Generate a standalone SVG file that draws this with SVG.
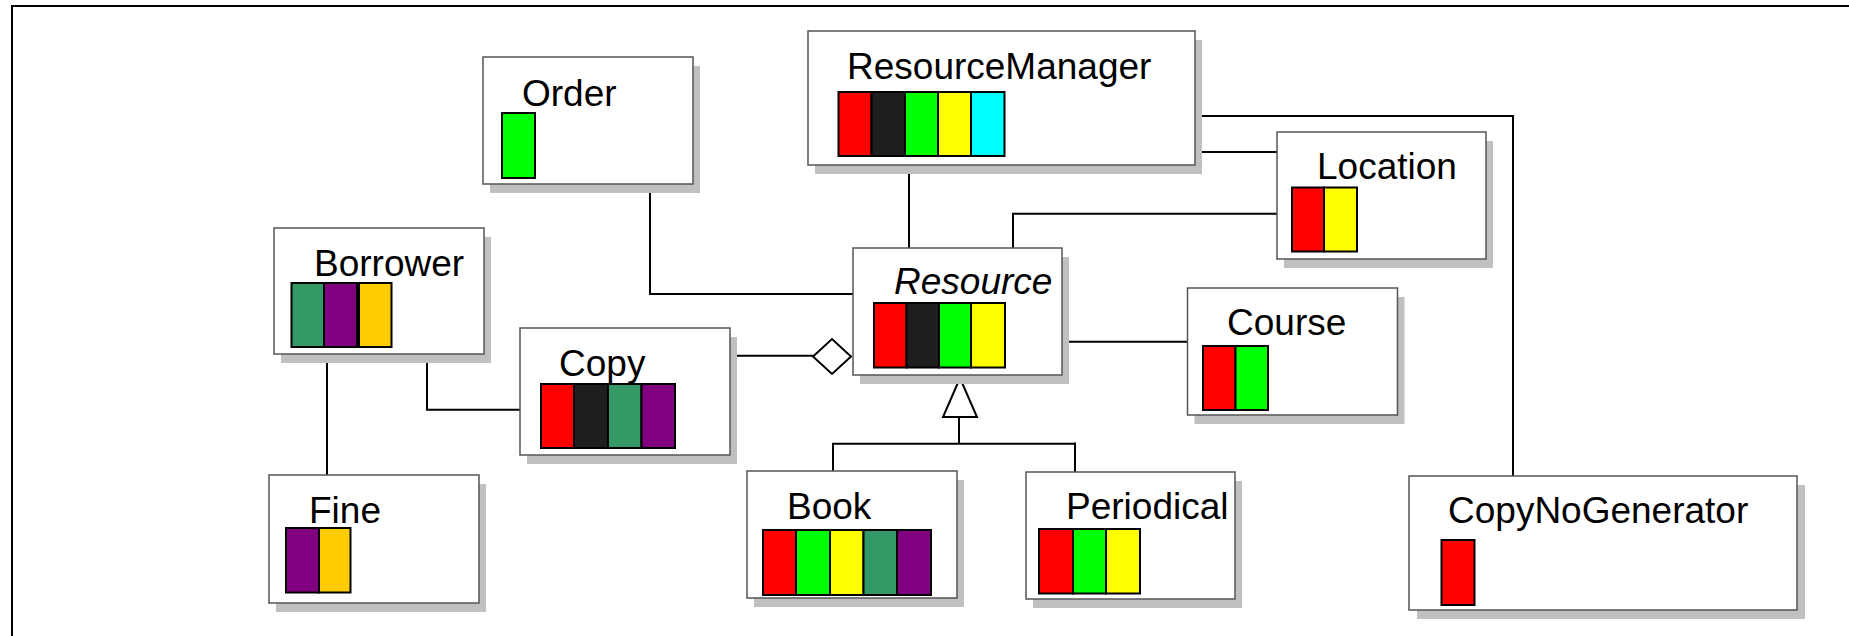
<svg xmlns="http://www.w3.org/2000/svg" width="1849" height="636" viewBox="0 0 1849 636">
  <style>
    .shadow { fill: #c0c0c0; }
    .box { fill: #ffffff; stroke: #555555; stroke-width: 1.5; }
    .label { font-family: "Liberation Sans", Arial, sans-serif; font-size: 37px; fill: #000000; }
    .italic { font-style: italic; }
    .sw { stroke: #000000; stroke-width: 2; }
    .red { fill: #ff0000; }
    .blk { fill: #1e1e1e; }
    .grn { fill: #00ff00; }
    .yel { fill: #ffff00; }
    .cyn { fill: #00ffff; }
    .sea { fill: #339966; }
    .pur { fill: #800080; }
    .gld { fill: #ffcc00; }
    .conn { fill: none; stroke: #000000; stroke-width: 2; }
    .head { fill: #ffffff; stroke: #000000; stroke-width: 2; stroke-linejoin: miter; }
    .frame { fill: none; stroke: #000000; stroke-width: 2; }
  </style>

  <rect x="0" y="0" width="1849" height="636" fill="#ffffff"/>

  <!-- page frame (top and left edges) -->
  <path class="frame" d="M12 636 V6 H1849"/>

  <!-- associations, aggregation and generalization -->
  <g id="connectors">
    <path class="conn" d="M650 184 V294 H853"/>
    <path class="conn" d="M909 165 V248"/>
    <path class="conn" d="M1277 213.7 H1013 V248"/>
    <path class="conn" d="M1195 152 H1277"/>
    <path class="conn" d="M1195 116 H1513 V476"/>
    <path class="conn" d="M1062 341.7 H1187.5"/>
    <path class="conn" d="M730 355.7 H813"/>
    <polygon class="head" points="813,356.5 832,339 851,356.5 832,374"/>
    <path class="conn" d="M959 417 V443.7"/>
    <path class="conn" d="M833 471 V443.7 H1075"/>
    <path class="conn" d="M1075 442.5 V472"/>
    <polygon class="head" points="960,378 943,417 977,417"/>
    <path class="conn" d="M327 354 V475"/>
    <path class="conn" d="M427 354 V409.7 H520"/>
  </g>

  <g id="order">
    <rect class="shadow" x="490" y="66" width="210" height="127"/>
    <rect class="box" x="483" y="57" width="210" height="127"/>
    <text class="label" x="522" y="106">Order</text>
    <rect class="sw grn" x="502" y="113" width="33" height="65"/>
  </g>

  <g id="resource-manager">
    <rect class="shadow" x="815" y="40" width="387" height="134"/>
    <rect class="box" x="808" y="31" width="387" height="134"/>
    <text class="label" x="847" y="79">ResourceManager</text>
    <rect class="sw red" x="838.5" y="92" width="33" height="64"/>
    <rect class="sw blk" x="871.5" y="92" width="33.5" height="64"/>
    <rect class="sw grn" x="905" y="92" width="33" height="64"/>
    <rect class="sw yel" x="938" y="92" width="33" height="64"/>
    <rect class="sw cyn" x="971" y="92" width="33.5" height="64"/>
  </g>

  <g id="location">
    <rect class="shadow" x="1284" y="141" width="209" height="127"/>
    <rect class="box" x="1277" y="132" width="209" height="127"/>
    <text class="label" x="1317" y="179">Location</text>
    <rect class="sw red" x="1292" y="187.5" width="32" height="64"/>
    <rect class="sw yel" x="1324" y="187.5" width="33" height="64"/>
  </g>

  <g id="borrower">
    <rect class="shadow" x="281" y="237" width="210" height="126"/>
    <rect class="box" x="274" y="228" width="210" height="126"/>
    <text class="label" x="314" y="276">Borrower</text>
    <rect class="sw sea" x="291.5" y="283" width="32.5" height="64"/>
    <rect class="sw pur" x="324" y="283" width="33" height="64"/>
    <rect class="sw gld" x="359" y="283" width="32.5" height="64"/>
  </g>

  <g id="resource">
    <rect class="shadow" x="860" y="257" width="209" height="127"/>
    <rect class="box" x="853" y="248" width="209" height="127"/>
    <text class="label italic" x="894" y="294">Resource</text>
    <rect class="sw red" x="874" y="303" width="32.5" height="64.5"/>
    <rect class="sw blk" x="906.5" y="303" width="32.5" height="64.5"/>
    <rect class="sw grn" x="939" y="303" width="32" height="64.5"/>
    <rect class="sw yel" x="971" y="303" width="34" height="64.5"/>
  </g>

  <g id="course">
    <rect class="shadow" x="1194.5" y="297" width="210" height="127"/>
    <rect class="box" x="1187.5" y="288" width="210" height="127"/>
    <text class="label" x="1227" y="335">Course</text>
    <rect class="sw red" x="1203" y="346" width="32.5" height="64"/>
    <rect class="sw grn" x="1235.5" y="346" width="32.5" height="64"/>
  </g>

  <g id="copy">
    <rect class="shadow" x="527" y="337" width="210" height="127"/>
    <rect class="box" x="520" y="328" width="210" height="127"/>
    <text class="label" x="559" y="376">Copy</text>
    <rect class="sw red" x="541" y="384" width="33" height="64"/>
    <rect class="sw blk" x="574" y="384" width="34" height="64"/>
    <rect class="sw sea" x="608" y="384" width="33.5" height="64"/>
    <rect class="sw pur" x="641.5" y="384" width="33.5" height="64"/>
  </g>

  <g id="fine">
    <rect class="shadow" x="276" y="484" width="210" height="128"/>
    <rect class="box" x="269" y="475" width="210" height="128"/>
    <text class="label" x="309" y="523">Fine</text>
    <rect class="sw pur" x="286" y="528" width="33" height="64.5"/>
    <rect class="sw gld" x="319" y="528" width="31.5" height="64.5"/>
  </g>

  <g id="book">
    <rect class="shadow" x="754" y="480" width="210" height="127"/>
    <rect class="box" x="747" y="471" width="210" height="127"/>
    <text class="label" x="787" y="519">Book</text>
    <rect class="sw red" x="763" y="530" width="33" height="65"/>
    <rect class="sw grn" x="796" y="530" width="34" height="65"/>
    <rect class="sw yel" x="830" y="530" width="33.5" height="65"/>
    <rect class="sw sea" x="863.5" y="530" width="33.5" height="65"/>
    <rect class="sw pur" x="897" y="530" width="34" height="65"/>
  </g>

  <g id="periodical">
    <rect class="shadow" x="1033" y="481" width="209" height="127"/>
    <rect class="box" x="1026" y="472" width="209" height="127"/>
    <text class="label" x="1066" y="519">Periodical</text>
    <rect class="sw red" x="1039" y="529" width="34" height="64.5"/>
    <rect class="sw grn" x="1073" y="529" width="33" height="64.5"/>
    <rect class="sw yel" x="1106" y="529" width="34" height="64.5"/>
  </g>

  <g id="copy-no-generator">
    <rect class="shadow" x="1417" y="485" width="388" height="134"/>
    <rect class="box" x="1409" y="476" width="388" height="134"/>
    <text class="label" x="1448" y="523">CopyNoGenerator</text>
    <rect class="sw red" x="1441.5" y="540" width="33" height="65"/>
  </g>
</svg>
